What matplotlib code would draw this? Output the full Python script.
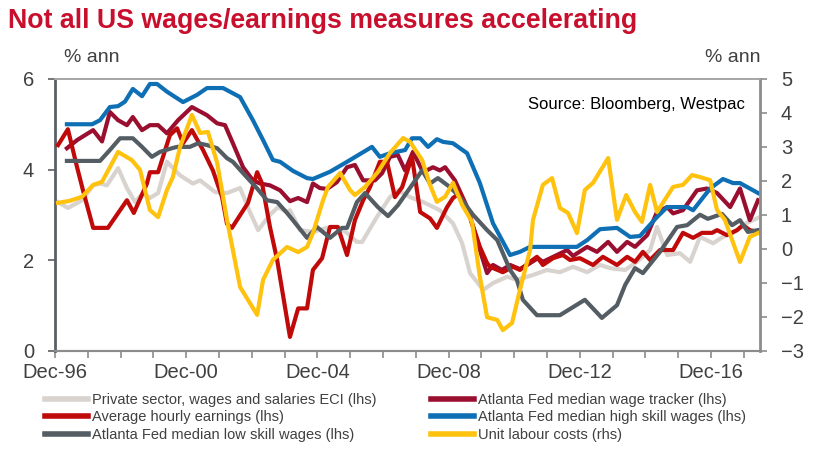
import matplotlib
matplotlib.use("Agg")
import matplotlib.pyplot as plt
from matplotlib.ticker import FixedLocator

# ─────────────────────────────────────────────
# DATA  (decimal years, % ann)
# ─────────────────────────────────────────────
ECI_T = [1997.01, 1997.31, 1997.74, 1998.08, 1998.29, 1998.50, 1998.84, 1999.11, 1999.36,
         1999.60, 1999.81, 2000.06, 2000.33, 2000.73, 2001.12, 2001.34, 2001.80, 2002.16,
         2002.56, 2002.86, 2003.11, 2003.47, 2003.72, 2003.99, 2004.08, 2004.39, 2004.78,
         2005.21, 2005.51, 2005.82, 2006.12, 2006.28, 2006.73, 2007.13, 2007.37, 2007.74,
         2008.14, 2008.65, 2009.05, 2009.33, 2009.57, 2009.97, 2010.27, 2010.70, 2011.00,
         2011.49, 2011.92, 2012.31, 2012.71, 2013.14, 2013.53, 2013.84, 2014.30, 2014.66,
         2015.06, 2015.27, 2015.58, 2015.97, 2016.28, 2016.58, 2016.98, 2017.28, 2017.59,
         2018.01, 2018.35]
ECI_V = [3.28, 3.15, 3.32, 3.65, 3.69, 3.65, 4.03, 3.59, 3.28,
         3.48, 3.37, 3.48, 4.17, 3.87, 3.69, 3.76, 3.50, 3.48,
         3.59, 3.06, 2.66, 3.00, 3.17, 3.06, 3.10, 2.66, 2.62,
         2.71, 2.73, 2.60, 2.40, 2.40, 2.95, 3.39, 3.54, 3.39,
         3.28, 3.10, 2.81, 2.37, 1.71, 1.34, 1.49, 1.63, 1.56,
         1.67, 1.78, 1.73, 1.85, 1.73, 1.89, 1.82, 1.78, 1.96,
         2.22, 2.73, 2.11, 2.15, 1.96, 2.51, 2.37, 2.51, 2.60,
         2.82, 2.93]

TRACKER_T = [1997.28, 1997.59, 1998.08, 1998.35, 1998.59, 1998.84, 1999.11, 1999.29, 1999.57,
             1999.81, 2000.06, 2000.33, 2000.67, 2001.09, 2001.55, 2001.86, 2002.10, 2002.34,
             2002.65, 2002.95, 2003.17, 2003.47, 2003.78, 2004.08, 2004.33, 2004.60, 2004.78,
             2004.99, 2005.21, 2005.51, 2005.82, 2006.06, 2006.31, 2006.67, 2006.89, 2007.13,
             2007.37, 2007.59, 2007.83, 2008.14, 2008.44, 2008.65, 2008.81, 2009.11, 2009.48,
             2009.87, 2010.09, 2010.27, 2010.54, 2010.79, 2011.09, 2011.31, 2011.64, 2011.79,
             2012.22, 2012.53, 2012.71, 2013.14, 2013.44, 2013.78, 2014.05, 2014.36, 2014.60,
             2014.97, 2015.27, 2015.58, 2015.76, 2016.06, 2016.49, 2016.79, 2017.10, 2017.50,
             2017.80, 2018.10, 2018.35]
TRACKER_V = [4.47, 4.65, 4.87, 4.62, 5.27, 5.09, 4.98, 5.16, 4.87,
             4.98, 4.98, 4.80, 5.09, 5.38, 5.20, 5.02, 4.98, 4.58,
             4.05, 3.76, 3.69, 3.65, 3.54, 3.30, 3.37, 3.28, 3.69,
             3.59, 3.57, 3.72, 4.05, 4.10, 3.76, 3.76, 3.92, 4.28,
             4.32, 3.98, 4.39, 3.94, 4.05, 3.98, 4.05, 3.76, 3.17,
             2.22, 1.71, 1.89, 1.78, 1.89, 1.80, 1.89, 2.04, 1.96,
             2.11, 2.22, 2.09, 2.29, 2.18, 2.40, 2.18, 2.40, 2.29,
             2.55, 3.06, 3.17, 3.03, 3.10, 3.54, 3.58, 3.48, 3.17,
             3.58, 2.88, 3.32]

AHE_T = [1997.01, 1997.31, 1997.59, 1997.77, 1998.08, 1998.53, 1999.11, 1999.32, 1999.72,
         1999.81, 2000.06, 2000.21, 2000.42, 2000.64, 2000.82, 2001.09, 2001.43, 2001.73,
         2002.01, 2002.16, 2002.31, 2002.80, 2003.08, 2003.23, 2003.47, 2003.69, 2004.08,
         2004.33, 2004.60, 2004.78, 2005.06, 2005.30, 2005.54, 2005.82, 2006.06, 2006.31,
         2006.52, 2006.82, 2007.04, 2007.28, 2007.50, 2007.80, 2008.05, 2008.35, 2008.56,
         2008.87, 2009.05, 2009.26, 2009.57, 2009.87, 2010.09, 2010.18, 2010.57, 2010.88,
         2011.09, 2011.40, 2011.61, 2011.79, 2012.10, 2012.40, 2012.62, 2012.92, 2013.32,
         2013.62, 2014.05, 2014.36, 2014.60, 2014.84, 2015.06, 2015.36, 2015.76, 2016.06,
         2016.37, 2016.64, 2016.95, 2017.10, 2017.40, 2017.71, 2017.89, 2018.10, 2018.35]
AHE_V = [4.54, 4.89, 4.05, 3.54, 2.71, 2.71, 3.32, 3.04, 3.69,
         3.94, 3.94, 4.28, 4.76, 4.91, 4.58, 4.87, 4.43, 3.98,
         3.39, 2.80, 2.71, 3.26, 3.94, 3.69, 2.73, 2.00, 0.30,
         0.93, 0.93, 1.78, 2.04, 2.73, 2.73, 2.11, 2.88, 3.32,
         3.61, 4.17, 4.17, 3.39, 3.61, 4.28, 3.06, 2.92, 2.71,
         3.17, 3.37, 3.48, 2.95, 2.29, 1.93, 1.85, 1.73, 1.85,
         1.78, 1.96, 2.07, 1.89, 2.04, 2.11, 2.00, 2.04, 1.89,
         2.07, 1.89, 2.07, 1.96, 2.18, 2.00, 2.22, 2.22, 2.60,
         2.49, 2.60, 2.60, 2.66, 2.55, 2.66, 2.77, 2.66, 2.62]

HIGH_T = [1997.28, 1998.05, 1998.29, 1998.59, 1998.84, 1999.05, 1999.29, 1999.57, 1999.81,
          2000.03, 2000.33, 2000.82, 2001.25, 2001.55, 2002.04, 2002.56, 2002.95, 2003.26,
          2003.56, 2003.78, 2004.17, 2004.60, 2004.78, 2005.30, 2005.82, 2006.58, 2006.82,
          2007.13, 2007.59, 2007.80, 2008.05, 2008.29, 2008.56, 2008.75, 2009.05, 2009.48,
          2009.87, 2010.27, 2010.79, 2011.09, 2011.40, 2012.83, 2013.14, 2013.53, 2014.05,
          2014.45, 2014.75, 2015.27, 2015.58, 2016.19, 2016.37, 2016.89, 2017.28, 2017.59,
          2017.80, 2018.35]
HIGH_V = [5.00, 5.00, 5.09, 5.38, 5.40, 5.50, 5.78, 5.62, 5.89,
          5.89, 5.72, 5.49, 5.65, 5.80, 5.80, 5.60, 5.09, 4.65,
          4.21, 4.17, 3.97, 3.81, 3.79, 3.95, 4.17, 4.50, 4.28,
          4.36, 4.43, 4.69, 4.69, 4.50, 4.67, 4.61, 4.58, 4.36,
          3.70, 2.81, 2.11, 2.18, 2.29, 2.29, 2.44, 2.68, 2.71,
          2.51, 2.53, 2.95, 3.17, 3.17, 3.10, 3.58, 3.79, 3.70,
          3.70, 3.48]

LOW_T = [1997.28, 1998.29, 1998.59, 1998.90, 1999.29, 1999.57, 1999.87, 2000.12, 2000.48,
         2000.64, 2001.03, 2001.28, 2001.55, 2001.86, 2002.16, 2002.34, 2002.65, 2003.08,
         2003.38, 2003.69, 2003.99, 2004.17, 2004.60, 2004.90, 2005.30, 2005.67, 2005.82,
         2006.12, 2006.37, 2006.76, 2007.07, 2007.37, 2007.65, 2008.11, 2008.35, 2008.59,
         2008.96, 2009.26, 2009.66, 2010.09, 2010.40, 2010.79, 2011.00, 2011.18, 2011.61,
         2012.31, 2013.07, 2013.59, 2014.05, 2014.30, 2014.60, 2014.84, 2015.36, 2015.88,
         2016.19, 2016.58, 2016.82, 2017.25, 2017.56, 2017.80, 2018.04, 2018.35]
LOW_V = [4.19, 4.19, 4.43, 4.69, 4.69, 4.50, 4.28, 4.39, 4.47,
         4.50, 4.50, 4.58, 4.54, 4.47, 4.25, 4.17, 3.92, 3.58,
         3.32, 3.28, 3.04, 2.88, 2.49, 2.73, 2.49, 2.71, 2.71,
         3.28, 3.48, 3.17, 2.97, 3.21, 3.50, 3.98, 3.69, 3.81,
         3.61, 3.39, 3.00, 2.66, 2.44, 1.78, 1.56, 1.12, 0.78,
         0.78, 1.12, 0.72, 1.00, 1.45, 1.82, 1.71, 2.18, 2.73,
         2.77, 3.00, 2.91, 3.02, 2.77, 2.88, 2.62, 2.66]

# unit labour costs on the right hand axis
ULC_T = [1997.01, 1997.37, 1997.74, 1998.08, 1998.35, 1998.84, 1999.26, 1999.51, 1999.81,
         2000.06, 2000.33, 2000.51, 2000.73, 2001.09, 2001.34, 2001.58, 2001.86, 2002.04,
         2002.16, 2002.56, 2003.08, 2003.26, 2003.56, 2003.99, 2004.33, 2004.60, 2004.78,
         2005.09, 2005.24, 2005.61, 2005.91, 2006.06, 2006.37, 2006.76, 2007.13, 2007.53,
         2007.74, 2008.11, 2008.35, 2008.56, 2008.81, 2009.05, 2009.33, 2009.63, 2009.87,
         2010.09, 2010.40, 2010.57, 2010.85, 2011.09, 2011.40, 2011.49, 2011.79, 2012.07,
         2012.31, 2012.56, 2012.83, 2013.07, 2013.32, 2013.78, 2014.05, 2014.33, 2014.60,
         2014.81, 2015.06, 2015.27, 2015.76, 2016.06, 2016.34, 2016.58, 2016.89, 2017.10,
         2017.34, 2017.80, 2018.10, 2018.35]
ULC_V = [1.35, 1.41, 1.53, 1.88, 1.97, 2.85, 2.61, 2.32, 1.14,
         0.93, 1.73, 2.11, 3.00, 3.94, 3.41, 3.44, 2.53, 1.53,
         0.85, -1.13, -1.95, -0.92, -0.33, 0.05, -0.10, 0.05, 0.46,
         1.43, 1.82, 2.23, 1.73, 1.58, 1.82, 2.26, 2.82, 3.26,
         3.15, 2.61, 1.88, 1.38, 1.53, 1.94, 1.29, 0.79, -0.83,
         -2.02, -2.10, -2.40, -2.19, -1.22, -0.04, 0.85, 1.88, 2.08,
         1.20, 1.05, 0.46, 1.73, 1.94, 2.67, 0.85, 1.58, 1.08,
         0.79, 1.88, 1.08, 1.82, 1.88, 2.17, 2.11, 2.02, 1.14,
         0.85, -0.39, 0.35, 0.46]

XTICK_POS    = [1996.917, 2000.917, 2004.917, 2008.917, 2012.917, 2016.917]
XTICK_LABELS = ["Dec-96", "Dec-00", "Dec-04", "Dec-08", "Dec-12", "Dec-16"]

# ─────────────────────────────────────────────
# STYLE
# ─────────────────────────────────────────────
COLORS = {
    "eci":     "#D8D3CE",
    "tracker": "#9A0F30",
    "ahe":     "#C00A0A",
    "high":    "#0E6FB5",
    "low":     "#545D63",
    "ulc":     "#FFC20E",
    "title":   "#C8102E",
    "text":    "#404040",
    "axis":    "#8C8C8C",
}
plt.rcParams["font.family"] = ["Liberation Sans", "DejaVu Sans"]

LW = 3.0
LEG_FS = 10.5          # pt, legend text
LEG_PX = LEG_FS * 100 / 72

# ─────────────────────────────────────────────
# FIGURE
# ─────────────────────────────────────────────
fig = plt.figure(figsize=(8.18, 4.57), dpi=100)
ax = fig.add_axes([55 / 818, 1 - 350.5 / 457, (760 - 55) / 818, (350.5 - 79) / 457])
ax2 = ax.twinx()

l1, = ax.plot(ECI_T, ECI_V, color=COLORS["eci"], lw=LW, zorder=1,
              label="Private sector, wages and salaries ECI (lhs)")
l2, = ax.plot(TRACKER_T, TRACKER_V, color=COLORS["tracker"], lw=LW, zorder=2,
              label="Atlanta Fed median wage tracker (lhs)")
l3, = ax.plot(AHE_T, AHE_V, color=COLORS["ahe"], lw=LW, zorder=3,
              label="Average hourly earnings (lhs)")
l5, = ax.plot(LOW_T, LOW_V, color=COLORS["low"], lw=LW, zorder=4,
              label="Atlanta Fed median low skill wages (lhs)")
l4, = ax.plot(HIGH_T, HIGH_V, color=COLORS["high"], lw=LW, zorder=5,
              label="Atlanta Fed median high skill wages (lhs)")
l6, = ax2.plot(ULC_T, ULC_V, color=COLORS["ulc"], lw=LW,
               label="Unit labour costs (rhs)")

ax.set_xlim(1996.917, 2018.41)
ax.set_ylim(0, 6)
ax2.set_ylim(-3, 5)
ax.set_yticks([0, 2, 4, 6])
ax2.set_yticks(range(-3, 6))

ax.set_xticks(XTICK_POS)
ax.set_xticklabels(XTICK_LABELS)
ax.xaxis.set_minor_locator(FixedLocator([1996.917 + i for i in range(22)]))

for a in (ax, ax2):
    a.tick_params(colors=COLORS["text"], labelsize=14.5, length=5, width=1.2, direction="out")
    a.patch.set_visible(False)
ax.tick_params(axis="x", which="minor", length=5, width=1.2, color=COLORS["axis"])
ax.tick_params(axis="x", which="major", color=COLORS["axis"], pad=4)
ax.tick_params(axis="y", color="#5A6066", pad=10)
ax2.tick_params(axis="y", color=COLORS["axis"], pad=10)

for a in (ax, ax2):
    a.spines["top"].set_color("#A6A6A6")
    a.spines["top"].set_linewidth(1.2)
    a.spines["bottom"].set_color(COLORS["axis"])
    a.spines["bottom"].set_linewidth(1.5)
ax.spines["left"].set_color("#5A6066")
ax.spines["left"].set_linewidth(2)
ax2.spines["right"].set_color(COLORS["axis"])
ax2.spines["right"].set_linewidth(2)
ax2.spines["left"].set_visible(False)
ax.spines["right"].set_visible(False)

# ── texts
fig.text(8 / 818, 1 - 21 / 457, "Not all US wages/earnings measures accelerating",
         color=COLORS["title"], fontsize=19.3, fontweight="bold", va="center", ha="left")
fig.text(92 / 818, 1 - 57 / 457, "% ann", color=COLORS["text"], fontsize=14,
         ha="center", va="center")
fig.text(733 / 818, 1 - 57 / 457, "% ann", color=COLORS["text"], fontsize=14,
         ha="center", va="center")
fig.text(745 / 818, 1 - 104 / 457, "Source: Bloomberg, Westpac", color="black",
         fontsize=12, ha="right", va="center")

# ── legend (column-major fill)
handles = [l1, l3, l5, l2, l4, l6]
leg = fig.legend(handles=handles, labels=[h.get_label() for h in handles],
                 loc="upper left", bbox_to_anchor=(45 / 818, 1 - 393 / 457),
                 ncol=2, frameon=False, borderpad=0, borderaxespad=0,
                 handlelength=43 / LEG_PX, handletextpad=4 / LEG_PX,
                 columnspacing=54 / LEG_PX, labelspacing=0.24,
                 prop={"size": LEG_FS})
for t in leg.get_texts():
    t.set_color(COLORS["text"])
for h in leg.legend_handles:
    h.set_linewidth(4)

fig.savefig("out.png", dpi=100)
